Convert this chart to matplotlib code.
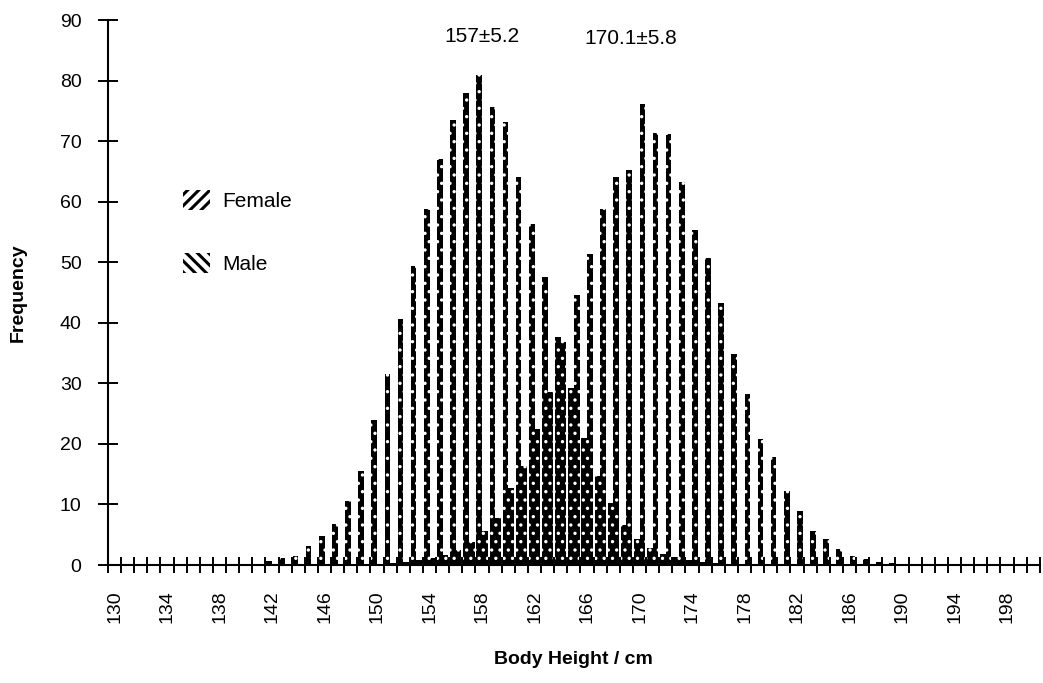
import matplotlib
matplotlib.use('Agg')
import matplotlib.pyplot as plt
from matplotlib.patches import Patch
import numpy as np

plt.rcParams['font.family'] = ['Liberation Sans', 'DejaVu Sans']
plt.rcParams['hatch.linewidth'] = 1.2

# body height classes in cm
heights = list(range(130, 201))

# frequencies, one per cm from 130 to 200
female = [0, 0, 0, 0, 0, 0, 0, 0, 0, 0, 0,
          0.2, 0.7, 1.2, 1.5, 3.1, 4.8, 6.7, 10.5, 15.5,
          24, 31.6, 40.7, 49.3, 58.8, 67, 73.5, 78, 81, 75.6,
          73.1, 64, 56.3, 47.6, 37.7, 29.2, 20.9, 14.7, 10.2, 6.6,
          4.3, 2.8, 1.8, 1.3, 0.8, 0.5, 0.3, 0, 0, 0,
          0, 0, 0, 0, 0, 0, 0, 0, 0, 0,
          0, 0, 0, 0, 0, 0, 0, 0, 0, 0, 0]
male = [0, 0, 0, 0, 0, 0, 0, 0, 0, 0,
        0, 0, 0, 0, 0, 0, 0, 0, 0, 0,
        0.2, 0.3, 0.5, 0.8, 1.2, 1.6, 2.5, 3.8, 5.6, 7.7,
        12.8, 16.4, 22.4, 28.5, 36.9, 44.6, 51.4, 58.8, 64, 65.2,
        76.1, 71.3, 71.2, 63.3, 55.4, 50.7, 43.3, 34.8, 28.2, 20.8,
        17.8, 12.2, 8.9, 5.6, 4.3, 2.6, 1.5, 1.0, 0.5, 0.3,
        0, 0, 0, 0, 0, 0, 0, 0, 0, 0, 0]

female_stats = '157±5.2'
male_stats = '170.1±5.8'

x = np.arange(len(heights))

fig = plt.figure(figsize=(10.43, 6.83), dpi=100)
ax = fig.add_axes([0.1035, 0.1727, 0.8935, 0.798])

ax.bar(x - 0.215, female, width=0.43, color='black', edgecolor='white', hatch='..', linewidth=0)
ax.bar(x + 0.215, male, width=0.43, color='black', edgecolor='white', hatch='..', linewidth=0)

ax.set_xlim(-0.5, len(heights) - 0.5)
ax.set_ylim(0, 90)

ax.spines['top'].set_visible(False)
ax.spines['right'].set_visible(False)
ax.spines['left'].set_linewidth(1.5)
ax.spines['bottom'].set_linewidth(1.5)

ax.set_yticks(range(0, 91, 10))
ax.tick_params(axis='y', direction='inout', length=14, width=1.4, labelsize=14, pad=12)

ax.set_xticks(x[::4])
ax.set_xticklabels([str(h) for h in heights[::4]], rotation=90)
ax.set_xticks(np.arange(-0.5, len(heights), 1), minor=True)
ax.tick_params(axis='x', which='major', length=0, labelsize=14, pad=18)
ax.tick_params(axis='x', which='minor', direction='inout', length=12, width=1.4)

ax.set_xlabel('Body Height / cm', fontsize=14, fontweight='bold')
ax.xaxis.set_label_coords(0.5, -0.158)
ax.set_ylabel('Frequency', fontsize=14, fontweight='bold')
ax.yaxis.set_label_coords(-0.087, 0.5)

ax.text(28, 87.3, female_stats, ha='center', va='center', fontsize=15)
ax.text(39.3, 87.0, male_stats, ha='center', va='center', fontsize=15)

plt.rcParams['hatch.linewidth'] = 2.2
handles = [Patch(facecolor='white', edgecolor='black', hatch='///', linewidth=0, label='Female'),
           Patch(facecolor='white', edgecolor='black', hatch='\\\\\\', linewidth=0, label='Male')]
ax.legend(handles=handles, loc='upper left', bbox_to_anchor=(183 / 1043, 1 - 190 / 683),
          bbox_transform=fig.transFigure, frameon=False, fontsize=15,
          handlelength=1.3, handleheight=1.1, handletextpad=0.6, labelspacing=2.0,
          borderpad=0, borderaxespad=0)

plt.savefig('out.png', dpi=100)
